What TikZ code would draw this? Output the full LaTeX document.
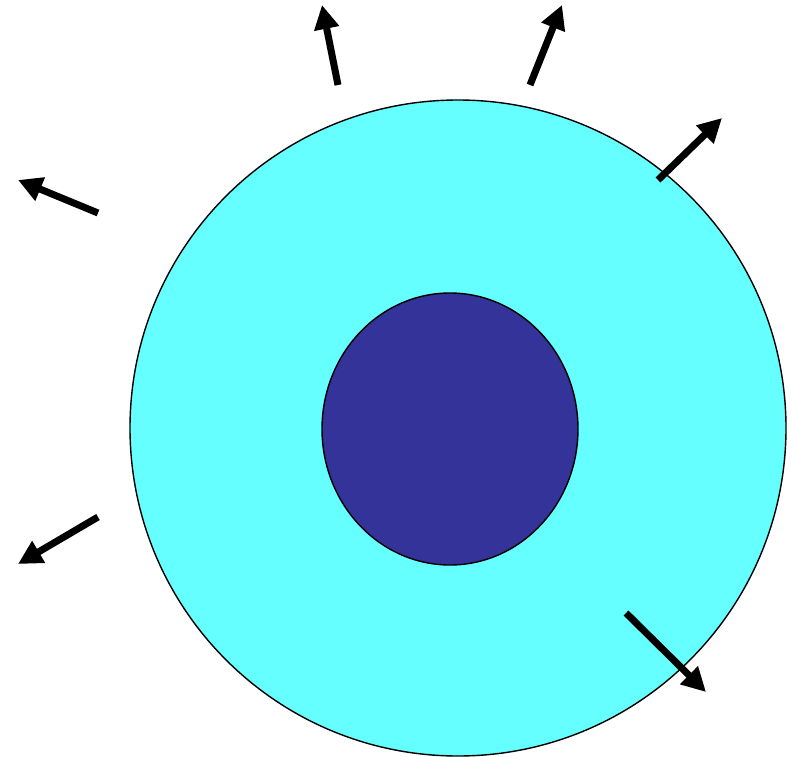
\documentclass[tikz,border=0pt]{standalone}
\usepackage{xcolor}
\usepackage{tikz}
\usetikzlibrary{arrows.meta,shapes.geometric}

\definecolor{cellcyan}{HTML}{66FFFF}
\definecolor{coreblue}{HTML}{333399}

\begin{document}
\begin{tikzpicture}[
    x=1pt, y=-1pt,
    cell/.style={draw, circle, fill=cellcyan, line width=1.4pt, minimum size=656pt, inner sep=0pt},
    core/.style={draw, ellipse, fill=coreblue, line width=1.4pt, minimum width=256pt, minimum height=272pt, inner sep=0pt},
    emit/.style={-{Triangle[length=24pt,width=24pt]}, line width=7pt}
]
\useasboundingbox (0,0) rectangle (792,757);
\node[cell] (cell) at (458,428) {};
\node[core] (core) at (450,429) {};

\coordinate (s1) at (338,85);  \coordinate (t1) at (322,5);
\coordinate (s2) at (530,85);  \coordinate (t2) at (562,5);
\coordinate (s3) at (658,180); \coordinate (t3) at (722,118);
\coordinate (s4) at (98,213);  \coordinate (t4) at (18,180);
\coordinate (s5) at (98,517);  \coordinate (t5) at (18,564);
\coordinate (s6) at (626,613); \coordinate (t6) at (706,692);

\draw[emit] (s1) -- (t1); \draw[emit] (s2) -- (t2); \draw[emit] (s3) -- (t3);
\draw[emit] (s4) -- (t4); \draw[emit] (s5) -- (t5); \draw[emit] (s6) -- (t6);
\end{tikzpicture}
\end{document}
